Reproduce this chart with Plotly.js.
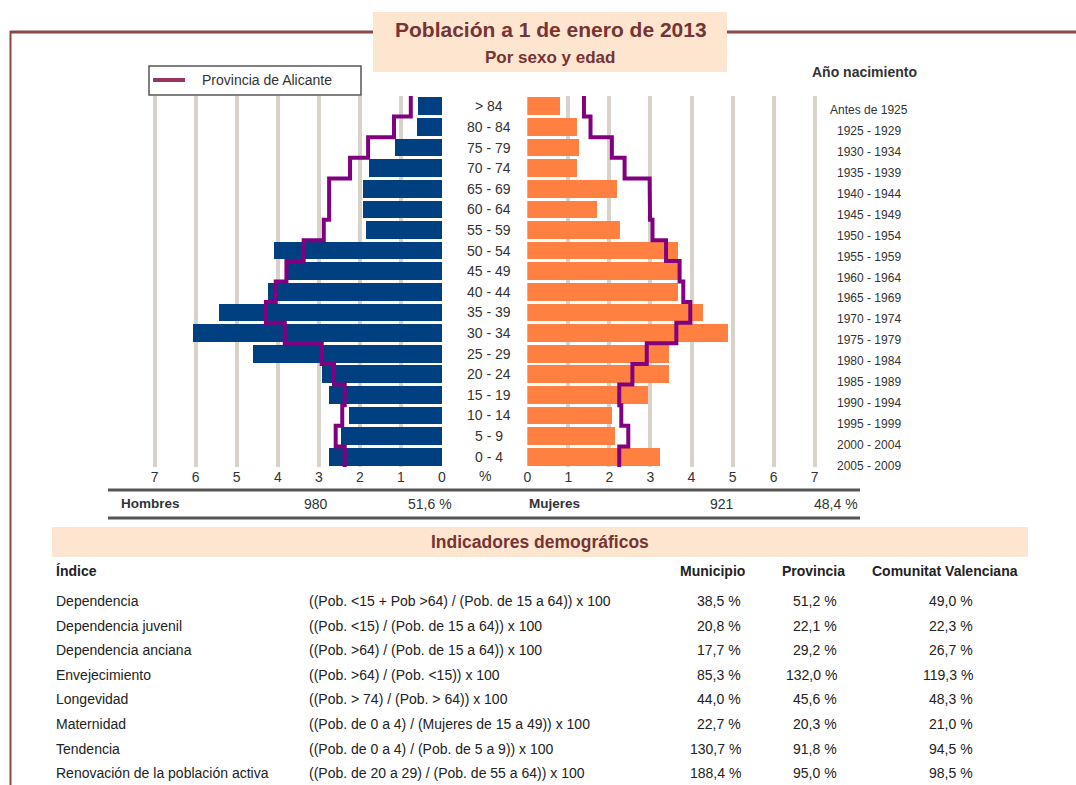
<!DOCTYPE html>
<html>
<head>
<meta charset="utf-8">
<script src="https://cdn.plot.ly/plotly-3.0.1.min.js"></script>
<style>
html,body{margin:0;padding:0;background:#fff;}
#chart{width:1076px;height:785px;}
</style>
</head>
<body>
<div id="chart"></div>
<script>
// ---------- DATA ----------
// age groups from bottom (0-4) to top (>84)
const ageGroups = ["0 - 4","5 - 9","10 - 14","15 - 19","20 - 24","25 - 29","30 - 34","35 - 39","40 - 44","45 - 49","50 - 54","55 - 59","60 - 64","65 - 69","70 - 74","75 - 79","80 - 84","> 84"];
const birthYears = ["2005 - 2009","2000 - 2004","1995 - 1999","1990 - 1994","1985 - 1989","1980 - 1984","1975 - 1979","1970 - 1974","1965 - 1969","1960 - 1964","1955 - 1959","1950 - 1954","1945 - 1949","1940 - 1944","1935 - 1939","1930 - 1934","1925 - 1929","Antes de 1925"];
const menPct =   [2.76,2.47,2.27,2.76,2.92,4.60,6.07,5.43,4.23,3.75,4.10,1.85,1.93,1.93,1.77,1.14,0.62,0.59];
const womenPct = [3.24,2.14,2.06,2.94,3.46,3.44,4.90,4.28,3.66,3.68,3.67,2.26,1.69,2.18,1.22,1.27,1.22,0.80];
const provMenPct =   [2.37,2.59,2.43,2.37,2.63,2.93,3.83,4.29,4.05,3.79,3.37,2.88,2.75,2.75,2.24,1.80,1.17,0.76];
const provWomenPct = [2.24,2.46,2.29,2.24,2.56,2.91,3.63,3.97,3.80,3.71,3.38,3.05,2.99,2.98,2.37,2.06,1.54,1.38];
const xTicks = [0,1,2,3,4,5,6,7];

const totals = {menCount: 980, menShare: "51,6 %", womenCount: 921, womenShare: "48,4 %"};

const indNames = ["Dependencia","Dependencia juvenil","Dependencia anciana","Envejecimiento","Longevidad","Maternidad","Tendencia","Renovación de la población activa"];
const indFormulas = ["((Pob. <15 + Pob >64) / (Pob. de 15 a 64)) x 100","((Pob. <15) / (Pob. de 15 a 64)) x 100","((Pob. >64) / (Pob. de 15 a 64)) x 100","((Pob. >64) / (Pob. <15)) x 100","((Pob. > 74) / (Pob. > 64)) x 100","((Pob. de 0 a 4) / (Mujeres de 15 a 49)) x 100","((Pob. de 0 a 4) / (Pob. de 5 a 9)) x 100","((Pob. de 20 a 29) / (Pob. de 55 a 64)) x 100"];
const municipio = [38.5,20.8,17.7,85.3,44.0,22.7,130.7,188.4];
const provincia = [51.2,22.1,29.2,132.0,45.6,20.3,91.8,95.0];
const comunitat = [49.0,22.3,26.7,119.3,48.3,21.0,94.5,98.5];

// ---------- HELPERS ----------
const W = 1076, H = 785;
const px = x => x / W;
const py = y => 1 - y / H;
const SANS = '"Liberation Sans", Arial, sans-serif';
const TXT = '#333333';
const MAROON = '#763434';
const PEACH = '#fde5cf';
const fmt = v => v.toFixed(1).replace('.', ',') + ' %';

function stepLine(vals) {
  const xs = [], ys = [];
  vals.forEach((v, i) => { xs.push(v, v); ys.push(i - 0.5, i + 0.5); });
  return {xs, ys};
}
const idx = ageGroups.map((_, i) => i);

// ---------- TRACES ----------
const sm = stepLine(provMenPct), sw = stepLine(provWomenPct);
const traces = [
  {type:'bar', orientation:'h', x: menPct, y: idx, xaxis:'x', yaxis:'y', width:0.86,
   marker:{color:'#004080'}, name:'Hombres', showlegend:false, hoverinfo:'x'},
  {type:'bar', orientation:'h', x: womenPct, y: idx, xaxis:'x2', yaxis:'y', width:0.86,
   marker:{color:'#ff8040'}, name:'Mujeres', showlegend:false, hoverinfo:'x'},
  {type:'scatter', mode:'lines', x: sm.xs, y: sm.ys, xaxis:'x', yaxis:'y',
   line:{color:'#800080', width:4}, name:'Provincia de Alicante', showlegend:false, hoverinfo:'skip'},
  {type:'scatter', mode:'lines', x: sw.xs, y: sw.ys, xaxis:'x2', yaxis:'y',
   line:{color:'#800080', width:4}, name:'Provincia de Alicante', showlegend:false, hoverinfo:'skip'}
];

// ---------- AXES ----------
const unitPx = 41.05;
const leftZero = 442, rightZero = 527.3, maxR = 7.3;
const axCommon = {
  tickvals: xTicks, ticktext: xTicks.map(String), showgrid:true, gridcolor:'#d7d3cb', gridwidth:4,
  zeroline:false, showline:false, ticks:'', tickfont:{family:SANS, size:14, color:TXT}, fixedrange:true
};
const layout = {
  width: W, height: H, margin:{l:0,r:0,t:0,b:0}, paper_bgcolor:'#ffffff', plot_bgcolor:'rgba(0,0,0,0)',
  bargap:0, showlegend:false,
  xaxis: Object.assign({}, axCommon, {domain:[px(leftZero - maxR*unitPx), px(leftZero)], range:[maxR, 0], anchor:'y'}),
  xaxis2: Object.assign({}, axCommon, {domain:[px(rightZero), px(rightZero + maxR*unitPx)], range:[0, maxR], anchor:'y'}),
  yaxis: {domain:[py(467), py(96)], range:[-0.5, ageGroups.length - 0.5], visible:false, fixedrange:true},
  shapes: [], annotations: []
};

const S = layout.shapes, A = layout.annotations;

// frame
S.push({type:'line', xref:'paper', yref:'paper', x0:px(10), x1:px(1076), y0:py(32), y1:py(32), line:{color:'#8a4646', width:3}});
S.push({type:'line', xref:'paper', yref:'paper', x0:px(10.5), x1:px(10.5), y0:py(31), y1:py(785), line:{color:'#8a4646', width:2}});
// title box
S.push({type:'rect', xref:'paper', yref:'paper', x0:px(373), x1:px(727), y0:py(12), y1:py(72), fillcolor:PEACH, line:{width:0}, layer:'above'});
A.push({xref:'paper', yref:'paper', x:px(551), y:py(30), text:'<b>Población a 1 de enero de 2013</b>', showarrow:false,
  font:{family:SANS, size:21, color:MAROON}, xanchor:'center', yanchor:'middle'});
A.push({xref:'paper', yref:'paper', x:px(550), y:py(58), text:'<b>Por sexo y edad</b>', showarrow:false,
  font:{family:SANS, size:17, color:MAROON}, xanchor:'center', yanchor:'middle'});

// legend box
S.push({type:'rect', xref:'paper', yref:'paper', x0:px(149), x1:px(361), y0:py(66), y1:py(95), fillcolor:'#ffffff', line:{color:'#555555', width:1.5}});
S.push({type:'line', xref:'paper', yref:'paper', x0:px(153), x1:px(185), y0:py(80), y1:py(80), line:{color:'#993366', width:4}});
A.push({xref:'paper', yref:'paper', x:px(200), y:py(80), text:'Provincia de Alicante', showarrow:false,
  font:{family:SANS, size:14, color:TXT}, xanchor:'left', yanchor:'middle'});

// Año nacimiento
A.push({xref:'paper', yref:'paper', x:px(864), y:py(72), text:'<b>Año nacimiento</b>', showarrow:false,
  font:{family:SANS, size:14, color:TXT}, xanchor:'center', yanchor:'middle'});

// age labels
ageGroups.forEach((g, i) => {
  A.push({xref:'paper', yref:'y', x:px(489), y:i, text:g, showarrow:false,
    font:{family:SANS, size:14, color:TXT}, xanchor:'center', yanchor:'middle'});
});
// birth years
const nB = birthYears.length;
birthYears.forEach((b, i) => {
  const k = nB - 1 - i; // from top
  A.push({xref:'paper', yref:'paper', x:px(869), y:py(110 + k*(356/(nB-1))), text:b, showarrow:false,
    font:{family:SANS, size:12, color:TXT}, xanchor:'center', yanchor:'middle'});
});
// % label
A.push({xref:'paper', yref:'paper', x:px(485), y:py(476), text:'%', showarrow:false,
  font:{family:SANS, size:14, color:TXT}, xanchor:'center', yanchor:'middle'});

// totals row
S.push({type:'line', xref:'paper', yref:'paper', x0:px(108), x1:px(860), y0:py(490), y1:py(490), line:{color:'#555555', width:3}});
S.push({type:'line', xref:'paper', yref:'paper', x0:px(108), x1:px(860), y0:py(518), y1:py(518), line:{color:'#555555', width:3}});
const totFont = {family:SANS, size:14, color:TXT};
A.push({xref:'paper', yref:'paper', x:px(119), y:py(503), text:'<b>Hombres</b>', showarrow:false, font:{family:SANS, size:13.5, color:TXT}, xanchor:'left', yanchor:'middle'});
A.push({xref:'paper', yref:'paper', x:px(316), y:py(504), text:String(totals.menCount), showarrow:false, font:totFont, xanchor:'center', yanchor:'middle'});
A.push({xref:'paper', yref:'paper', x:px(454), y:py(504), text:totals.menShare, showarrow:false, font:totFont, xanchor:'right', yanchor:'middle'});
A.push({xref:'paper', yref:'paper', x:px(527), y:py(503), text:'<b>Mujeres</b>', showarrow:false, font:{family:SANS, size:13.5, color:TXT}, xanchor:'left', yanchor:'middle'});
A.push({xref:'paper', yref:'paper', x:px(722), y:py(504), text:String(totals.womenCount), showarrow:false, font:totFont, xanchor:'center', yanchor:'middle'});
A.push({xref:'paper', yref:'paper', x:px(860), y:py(504), text:totals.womenShare, showarrow:false, font:totFont, xanchor:'right', yanchor:'middle'});

// indicators band
S.push({type:'rect', xref:'paper', yref:'paper', x0:px(52), x1:px(1028), y0:py(527), y1:py(557), fillcolor:PEACH, line:{width:0}});
A.push({xref:'paper', yref:'paper', x:px(540), y:py(542), text:'<b>Indicadores demográficos</b>', showarrow:false,
  font:{family:SANS, size:17.5, color:MAROON}, xanchor:'center', yanchor:'middle'});

// table header
const hFont = {family:SANS, size:14, color:'#222222'};
A.push({xref:'paper', yref:'paper', x:px(54), y:py(571), text:'<b>Índice</b>', showarrow:false, font:hFont, xanchor:'left', yanchor:'middle'});
A.push({xref:'paper', yref:'paper', x:px(712), y:py(571), text:'<b>Municipio</b>', showarrow:false, font:hFont, xanchor:'center', yanchor:'middle'});
A.push({xref:'paper', yref:'paper', x:px(813), y:py(571), text:'<b>Provincia</b>', showarrow:false, font:hFont, xanchor:'center', yanchor:'middle'});
A.push({xref:'paper', yref:'paper', x:px(945), y:py(571), text:'<b>Comunitat Valenciana</b>', showarrow:false, font:hFont, xanchor:'center', yanchor:'middle'});

const rFont = {family:SANS, size:14, color:'#222222'};
indNames.forEach((n, r) => {
  const y = py(601 + r*24.6);
  A.push({xref:'paper', yref:'paper', x:px(54), y, text:n, showarrow:false, font:rFont, xanchor:'left', yanchor:'middle'});
  A.push({xref:'paper', yref:'paper', x:px(307), y, text:indFormulas[r], showarrow:false, font:rFont, xanchor:'left', yanchor:'middle'});
  A.push({xref:'paper', yref:'paper', x:px(743), y, text:fmt(municipio[r]), showarrow:false, font:rFont, xanchor:'right', yanchor:'middle'});
  A.push({xref:'paper', yref:'paper', x:px(839), y, text:fmt(provincia[r]), showarrow:false, font:rFont, xanchor:'right', yanchor:'middle'});
  A.push({xref:'paper', yref:'paper', x:px(975), y, text:fmt(comunitat[r]), showarrow:false, font:rFont, xanchor:'right', yanchor:'middle'});
});

Plotly.newPlot('chart', traces, layout, {displayModeBar:false, staticPlot:true});
</script>
</body>
</html>
